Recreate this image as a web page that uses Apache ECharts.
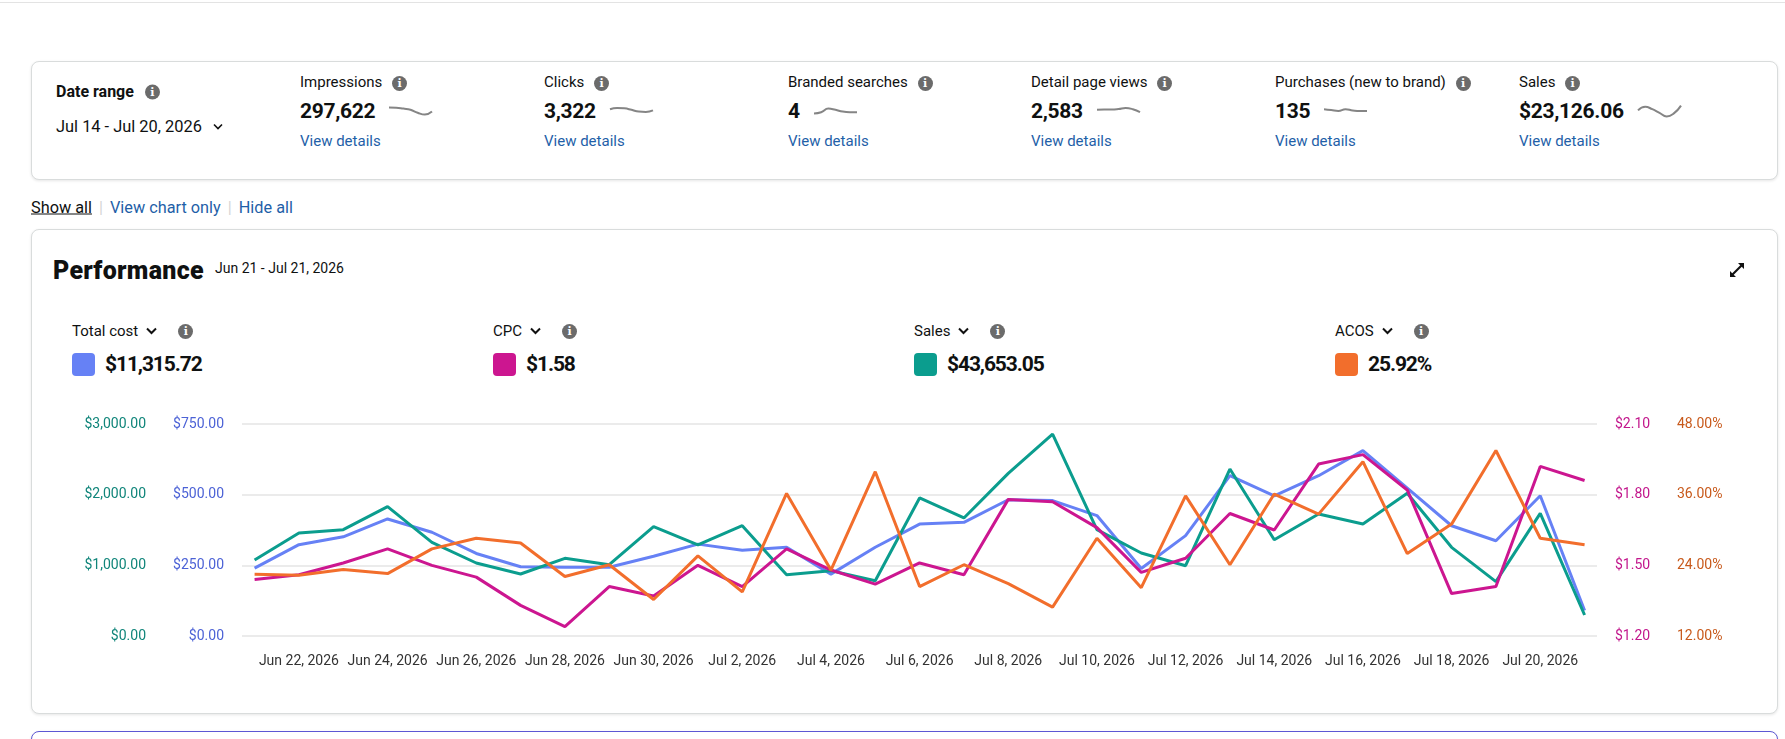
<!DOCTYPE html>
<html>
<head>
<meta charset="utf-8">
<script src="https://cdn.jsdelivr.net/npm/echarts@6/dist/echarts.min.js"></script>
<style>
  html, body { margin: 0; padding: 0; }
  body { width: 1785px; height: 739px; overflow: hidden; background: #fff; position: relative;
         font-family: Roboto, "Noto Sans", sans-serif; color: #0f1111; }
  .abs { position: absolute; white-space: nowrap; }
  .mid { transform: translateY(-50%); }
  .topline { position: absolute; top: 2px; left: 0; right: 0; border-top: 1px solid #e3e3e3; }
  .card { position: absolute; left: 31px; width: 1745px; border: 1px solid #d9dcdc; border-radius: 8px;
          box-shadow: 0 1px 3px rgba(0,0,0,0.10); background: #fff; }
  .info { display: inline-block; width: 15px; height: 15px; border-radius: 50%; background: #6b6b6b;
          color: #fff; font: bold 11px/15px "DejaVu Serif", serif; text-align: center; vertical-align: middle; }
  .lbl { font-size: 15px; color: #0f1111; }
  .big { font-size: 21px; font-weight: 700; letter-spacing: -0.3px; }
  .big2 { font-size: 21px; font-weight: 700; letter-spacing: -1.1px; }
  .link { font-size: 15px; color: #1f5fa8; }
  .row { display: flex; align-items: center; }
  .spark { width: 45px; height: 14px; margin-left: 13px; }
  .sw { width: 23px; height: 23px; border-radius: 4px; margin-right: 10px; }
  .sep { color: #d5d5d5; margin: 0 7px; }
</style>
</head>
<body>
<div class="topline"></div>
<div class="card" style="top:61px;height:117px;"></div>
<div class="card" style="top:229px;height:483px;"></div>
<div class="card" style="top:731px;height:40px;border-color:#5d57d3;"></div>

<div class="abs mid" style="left:56px;top:91px;font-size:16px;font-weight:700;">Date range <span class="info" style="margin-left:7px;">i</span></div>
<div class="abs mid" style="left:56px;top:126px;font-size:16.4px;">Jul 14 - Jul 20, 2026
  <svg width="10" height="7" style="margin-left:7px;vertical-align:middle"><path d="M1 1 L5 5 L9 1" fill="none" stroke="#111" stroke-width="1.6"/></svg></div>

<div id="metrics"></div>

<div class="abs mid" style="left:31px;top:207px;font-size:16.3px;"><span style="text-decoration:underline;color:#0f1111;">Show all</span><span class="sep">|</span><span style="color:#1f5fa8;">View chart only</span><span class="sep">|</span><span style="color:#1f5fa8;">Hide all</span></div>

<div class="abs mid" style="left:53px;top:270px;font-size:25px;font-weight:900;letter-spacing:0.3px;">Performance</div>
<div class="abs mid" style="left:215px;top:268px;font-size:14px;">Jun 21 - Jul 21, 2026</div>
<svg class="abs" style="left:1728px;top:261px;" width="18" height="18" viewBox="0 0 18 18">
  <path d="M10 2 L16 2 L16 8 Z M2 10 L2 16 L8 16 Z" fill="#111"/>
  <path d="M14 4 L4 14" stroke="#111" stroke-width="2.2"/>
</svg>

<div id="legend"></div>

<div id="chart" style="position:absolute;left:0;top:392px;width:1785px;height:320px;"></div>

<script>
var fontFam = 'Roboto, "Noto Sans", sans-serif';

// header metrics (Jul 14 - Jul 20)
var metricNames = ['Impressions', 'Clicks', 'Branded searches', 'Detail page views', 'Purchases (new to brand)', 'Sales'];
var metricValues = ['297,622', '3,322', '4', '2,583', '135', '$23,126.06'];
var metricX = [300, 544, 788, 1031, 1275, 1519];
var sparkImpressions = [8.0, 7.8, 7.0, 6.0, 3.5, 2.0, 4.5];
var sparkClicks = [6.5, 7.5, 7.2, 6.0, 4.5, 4.2, 5.5];
var sparkBranded = [3.0, 4.0, 7.0, 6.0, 4.5, 4.0, 4.0];
var sparkDetailViews = [6.0, 6.2, 6.2, 6.6, 7.5, 6.5, 4.0];
var sparkPurchases = [6.5, 5.8, 5.0, 6.5, 5.5, 5.0, 5.0];
var sparkSales = [5.5, 8.5, 6.5, 3.5, 0.5, 3.0, 9.5];
var sparkData = [sparkImpressions, sparkClicks, sparkBranded, sparkDetailViews, sparkPurchases, sparkSales];

// performance legend
var legendNames = ['Total cost', 'CPC', 'Sales', 'ACOS'];
var legendValues = ['$11,315.72', '$1.58', '$43,653.05', '25.92%'];
var legendColors = ['#6681f5', '#cc1690', '#0b9d8e', '#f26e2c'];
var legendX = [72, 493, 914, 1335];

// daily data Jun 21 - Jul 21, 2026
var dayLabels = ['Jun 21, 2026', 'Jun 22, 2026', 'Jun 23, 2026', 'Jun 24, 2026', 'Jun 25, 2026', 'Jun 26, 2026',
  'Jun 27, 2026', 'Jun 28, 2026', 'Jun 29, 2026', 'Jun 30, 2026', 'Jul 1, 2026', 'Jul 2, 2026', 'Jul 3, 2026',
  'Jul 4, 2026', 'Jul 5, 2026', 'Jul 6, 2026', 'Jul 7, 2026', 'Jul 8, 2026', 'Jul 9, 2026', 'Jul 10, 2026',
  'Jul 11, 2026', 'Jul 12, 2026', 'Jul 13, 2026', 'Jul 14, 2026', 'Jul 15, 2026', 'Jul 16, 2026', 'Jul 17, 2026',
  'Jul 18, 2026', 'Jul 19, 2026', 'Jul 20, 2026', 'Jul 21, 2026'];
var labelDays = [1, 3, 5, 7, 9, 11, 13, 15, 17, 19, 21, 23, 25, 27, 29];
var totalCost = [240, 323, 351, 414, 367, 292, 245, 243, 243, 282, 325, 303, 314, 219, 314, 396,
  402, 482, 479, 426, 239, 355, 567, 496, 567, 656, 523, 390, 337, 496, 90];
var cpc = [1.44, 1.46, 1.51, 1.57, 1.50, 1.45, 1.33, 1.24, 1.41, 1.37, 1.50, 1.41, 1.57, 1.48, 1.42, 1.51,
  1.46, 1.78, 1.77, 1.66, 1.47, 1.53, 1.72, 1.65, 1.93, 1.97, 1.82, 1.38, 1.41, 1.92, 1.86];
var sales = [1075, 1458, 1505, 1830, 1325, 1033, 877, 1099, 1009, 1547, 1288, 1561, 868, 925, 783, 1953,
  1670, 2302, 2858, 1505, 1175, 995, 2363, 1363, 1726, 1585, 2019, 1255, 769, 1736, 297];
var acos = [22.5, 22.3, 23.3, 22.6, 26.8, 28.6, 27.8, 22.1, 24.1, 18.2, 25.6, 19.5, 36.2, 23.2, 39.9, 20.4,
  24.1, 20.9, 16.9, 28.6, 20.2, 35.8, 24.1, 36.1, 32.7, 41.6, 26.0, 31.0, 43.5, 28.6, 27.5];

var axisColors = ['#4c62d6', '#c2168c', '#10857a', '#c85a1c'];

function infoIcon() { return '<span class="info">i</span>'; }
var chevron = '<svg width="11" height="8" style="margin-left:8px"><path d="M1 1.5 L5.5 6 L10 1.5" fill="none" stroke="#111" stroke-width="2"/></svg>';

// build header metrics
var mHtml = '';
for (var i = 0; i < metricNames.length; i++) {
  mHtml += '<div class="abs mid lbl" style="left:' + metricX[i] + 'px;top:82px;">' + metricNames[i] +
    ' <span style="margin-left:6px">' + infoIcon() + '</span></div>';
  mHtml += '<div class="abs mid row" style="left:' + metricX[i] + 'px;top:111px;"><span class="big">' + metricValues[i] +
    '</span><div class="spark" id="spark' + i + '"></div></div>';
  mHtml += '<div class="abs mid link" style="left:' + metricX[i] + 'px;top:141px;">View details</div>';
}
document.getElementById('metrics').innerHTML = mHtml;

// build legend
var lHtml = '';
for (var j = 0; j < legendNames.length; j++) {
  lHtml += '<div class="abs mid row lbl" style="left:' + legendX[j] + 'px;top:331px;">' + legendNames[j] + chevron +
    '<span style="margin-left:21px;display:inline-flex">' + infoIcon() + '</span></div>';
  lHtml += '<div class="abs mid row" style="left:' + legendX[j] + 'px;top:364px;"><div class="sw" style="background:' +
    legendColors[j] + '"></div><span class="big2">' + legendValues[j] + '</span></div>';
}
document.getElementById('legend').innerHTML = lHtml;

// sparklines
for (var k = 0; k < sparkData.length; k++) {
  var sc = echarts.init(document.getElementById('spark' + k));
  sc.setOption({
    animation: false,
    grid: { left: 1, right: 1, top: 1, bottom: 1 },
    xAxis: { type: 'category', show: false, boundaryGap: false, data: [0, 1, 2, 3, 4, 5, 6] },
    yAxis: { type: 'value', show: false, min: 0, max: 10 },
    series: [{ type: 'line', data: sparkData[k], smooth: true, showSymbol: false,
      lineStyle: { color: '#858585', width: 2 } }]
  });
}

function pairs(arr) {
  return arr.map(function (v, i) { return [i, v]; });
}
function money(v) {
  return '$' + v.toFixed(2).replace(/\B(?=(\d{3})+(?!\d))/g, ',');
}

var labelBase = { fontSize: 14, fontFamily: fontFam, margin: 18 };

var myChart = echarts.init(document.getElementById('chart'));
var option = {
  animation: false,
  grid: { left: 242, right: 188, top: 32, bottom: 76 },
  xAxis: {
    type: 'value', min: -0.284, max: 30.28,
    axisLine: { show: false }, axisTick: { show: false }, splitLine: { show: false },
    axisLabel: { customValues: labelDays, color: '#333', fontSize: 14, fontFamily: fontFam, margin: 18,
      formatter: function (v) { return dayLabels[v]; } }
  },
  yAxis: [
    { type: 'value', position: 'left', min: 0, max: 750, interval: 250,
      axisLine: { show: false }, axisTick: { show: false },
      splitLine: { show: true, lineStyle: { color: '#e4e4e4', width: 1.5 } },
      axisLabel: Object.assign({}, labelBase, { color: axisColors[0], formatter: money }) },
    { type: 'value', position: 'right', min: 1.2, max: 2.1, interval: 0.3,
      axisLine: { show: false }, axisTick: { show: false }, splitLine: { show: false },
      axisLabel: Object.assign({}, labelBase, { color: axisColors[1], formatter: function (v) { return '$' + v.toFixed(2); } }) },
    { type: 'value', position: 'left', offset: 78, min: 0, max: 3000, interval: 1000,
      axisLine: { show: false }, axisTick: { show: false }, splitLine: { show: false },
      axisLabel: Object.assign({}, labelBase, { color: axisColors[2], formatter: money }) },
    { type: 'value', position: 'right', offset: 62, min: 12, max: 48, interval: 12,
      axisLine: { show: false }, axisTick: { show: false }, splitLine: { show: false },
      axisLabel: Object.assign({}, labelBase, { color: axisColors[3], formatter: function (v) { return v.toFixed(2) + '%'; } }) }
  ],
  series: [
    { name: 'Total cost', type: 'line', yAxisIndex: 0, data: pairs(totalCost), showSymbol: false,
      lineStyle: { color: legendColors[0], width: 3 }, itemStyle: { color: legendColors[0] } },
    { name: 'Sales', type: 'line', yAxisIndex: 2, data: pairs(sales), showSymbol: false,
      lineStyle: { color: legendColors[2], width: 3 }, itemStyle: { color: legendColors[2] } },
    { name: 'CPC', type: 'line', yAxisIndex: 1, data: pairs(cpc), showSymbol: false,
      lineStyle: { color: legendColors[1], width: 3 }, itemStyle: { color: legendColors[1] } },
    { name: 'ACOS', type: 'line', yAxisIndex: 3, data: pairs(acos), showSymbol: false,
      lineStyle: { color: legendColors[3], width: 3 }, itemStyle: { color: legendColors[3] } }
  ]
};
myChart.setOption(option, true);
</script>
</body>
</html>
